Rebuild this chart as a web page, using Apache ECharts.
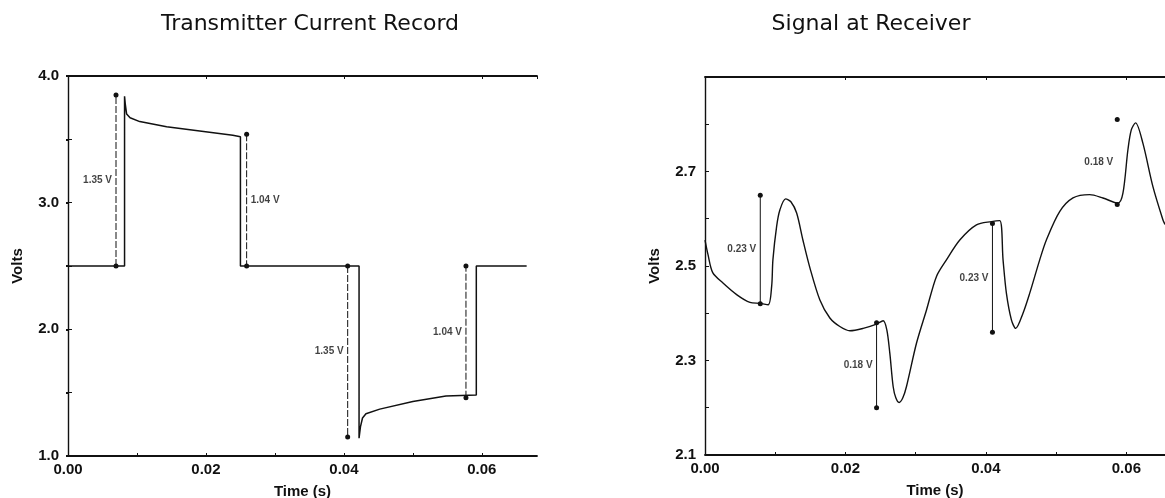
<!DOCTYPE html>
<html>
<head>
<meta charset="utf-8">
<title>Transmitter and Receiver Records</title>
<script src="https://cdn.jsdelivr.net/npm/echarts@6/dist/echarts.min.js"></script>
<style>
  html, body { margin: 0; padding: 0; background: #fff; }
  #chart { width: 1165px; height: 498px; }
</style>
</head>
<body>
<div id="chart"></div>
<script>
// Transmitter current record (time in s, volts)
const txTime  = [0, 0.0082, 0.0082, 0.0083, 0.0085, 0.0090, 0.0104, 0.0143, 0.0191, 0.0239, 0.0250, 0.0250,
                 0.0422, 0.0422, 0.0424, 0.0427, 0.0432, 0.0452, 0.0500, 0.0548, 0.0592, 0.0592, 0.0665];
const txVolts = [2.50, 2.50, 3.84, 3.78, 3.70, 3.67, 3.64, 3.60, 3.566, 3.532, 3.52, 2.50,
                 2.50, 1.14, 1.23, 1.30, 1.333, 1.37, 1.43, 1.474, 1.482, 2.50, 2.50];

// Signal seen at the receiver
const rxTime  = [0, 0.00043, 0.0011, 0.00256, 0.00455, 0.0064, 0.00782, 0.0090, 0.00949, 0.00967, 0.0102, 0.01067,
                 0.01148, 0.01223, 0.01305, 0.01394, 0.01494, 0.01636, 0.01778, 0.0192, 0.02063, 0.02252, 0.02443,
                 0.02536, 0.02589, 0.02632, 0.02679, 0.02717, 0.02764, 0.02817, 0.02869, 0.03012, 0.03154, 0.03296,
                 0.03438, 0.03628, 0.03865, 0.04079, 0.04197, 0.04244, 0.04292, 0.04363, 0.04424, 0.04528, 0.04623,
                 0.04766, 0.04861, 0.0505, 0.0524, 0.05477, 0.05666, 0.0588, 0.05951, 0.06022, 0.0607, 0.06131,
                 0.06235, 0.06378, 0.0652, 0.0655];
const rxVolts = [2.555, 2.524, 2.486, 2.464, 2.439, 2.423, 2.421, 2.418, 2.457, 2.513, 2.584, 2.619,
                 2.642, 2.636, 2.612, 2.555, 2.496, 2.428, 2.390, 2.372, 2.363, 2.368, 2.377,
                 2.384, 2.365, 2.315, 2.245, 2.221, 2.211, 2.221, 2.245, 2.337, 2.407, 2.478,
                 2.513, 2.555, 2.587, 2.594, 2.596, 2.513, 2.442, 2.386, 2.368, 2.400, 2.442,
                 2.513, 2.555, 2.615, 2.644, 2.651, 2.644, 2.633, 2.654, 2.746, 2.788, 2.803,
                 2.760, 2.668, 2.598, 2.588];

// Step annotations: time, start volts, end volts, text, text side
const txMarkTime = [0.00696, 0.0259, 0.04055, 0.0577];
const txMarkFrom = [2.50, 3.54, 2.50, 1.46];
const txMarkTo   = [3.85, 2.50, 1.15, 2.50];
const txMarkText = ['1.35 V', '1.04 V', '1.35 V', '1.04 V'];
const txMarkSide = ['left', 'right', 'left', 'left'];

const rxMarkTime = [0.00787, 0.02443, 0.04093, 0.0587];
const rxMarkFrom = [2.42, 2.38, 2.59, 2.63];
const rxMarkTo   = [2.65, 2.20, 2.36, 2.81];
const rxMarkText = ['0.23 V', '0.18 V', '0.23 V', '0.18 V'];
const rxMarkSide = ['left', 'left', 'left', 'left'];
const rxMarkStem = [true, true, true, false];

// Axis tick labels
const txYLabels = ['1.0', '2.0', '3.0', '4.0'];
const rxYLabels = ['2.1', '2.3', '2.5', '2.7'];
const xLabels   = ['0.00', '0.02', '0.04', '0.06'];

const FONT = 'Liberation Sans, Arial, Helvetica, sans-serif';
const TITLE_FONT = 'DejaVu Sans, Liberation Sans, sans-serif';
const INK = '#111';

function pairs(xs, ys) { return xs.map((x, i) => [x, ys[i]]); }

function fmtFrom(list) {
  return function (v) {
    const s = (Math.abs(v) < 1e-9 ? 0 : v).toFixed(list[0].split('.')[1].length);
    return list.indexOf(s) >= 0 && Math.abs(parseFloat(s) - v) < 1e-6 ? s : '';
  };
}

function xAxisBottom(gridIndex, max) {
  return {
    type: 'value', gridIndex: gridIndex, min: 0, max: max, interval: 0.01,
    name: 'Time (s)', nameLocation: 'middle', nameGap: 28,
    nameTextStyle: { color: INK, fontFamily: FONT, fontSize: 15, fontWeight: 'bold' },
    axisLine: { show: true, onZero: false, lineStyle: { color: INK, width: 1.8 } },
    axisTick: { show: true, inside: true, length: 3, lineStyle: { color: INK, width: 1 } },
    axisLabel: { color: INK, fontFamily: FONT, fontSize: 15, fontWeight: 'bold', margin: 6,
                 formatter: fmtFrom(xLabels), showMinLabel: true, showMaxLabel: false },
    splitLine: { show: false }
  };
}

function xAxisTop(gridIndex, max) {
  return {
    type: 'value', gridIndex: gridIndex, position: 'top', min: 0, max: max, interval: 0.02,
    axisLine: { show: true, onZero: false, lineStyle: { color: INK, width: 1.8 } },
    axisTick: { show: true, inside: true, length: 3, lineStyle: { color: INK, width: 1 } },
    axisLabel: { show: false }, splitLine: { show: false }
  };
}

function yAxisLeft(gridIndex, min, max, interval, labels, nameGap) {
  return {
    type: 'value', gridIndex: gridIndex, min: min, max: max, interval: interval,
    name: 'Volts', nameLocation: 'middle', nameGap: nameGap, nameRotate: 90,
    nameTextStyle: { color: INK, fontFamily: FONT, fontSize: 15, fontWeight: 'bold' },
    axisLine: { show: true, onZero: false, lineStyle: { color: INK, width: 1.4 } },
    axisTick: { show: true, inside: true, length: 4, lineStyle: { color: INK, width: 1 } },
    axisLabel: { color: INK, fontFamily: FONT, fontSize: 15, fontWeight: 'bold', margin: 9,
                 formatter: fmtFrom(labels) },
    splitLine: { show: false }
  };
}

function markSeries(xi, yi, times, from, to, texts, sides, stems, dashed) {
  const out = [];
  times.forEach((t, i) => {
    out.push({
      type: 'line', xAxisIndex: xi, yAxisIndex: yi, silent: true, animation: false,
      data: [[t, from[i]], [t, to[i]]],
      symbol: 'circle', symbolSize: 5, showSymbol: true,
      itemStyle: { color: INK },
      lineStyle: { color: INK, width: 1, type: dashed ? [7, 2] : 'solid',
                   opacity: stems && !stems[i] ? 0 : 1 },
      z: 3
    });
    out.push({
      type: 'scatter', xAxisIndex: xi, yAxisIndex: yi, silent: true, animation: false,
      symbolSize: 0, data: [[t, (from[i] + to[i]) / 2]],
      label: { show: true, position: sides[i], distance: 4, formatter: texts[i],
               color: INK, fontFamily: FONT, fontSize: 10, fontWeight: 'bold' },
      z: 4
    });
  });
  return out;
}

const chart = echarts.init(document.getElementById('chart'), null, { renderer: 'canvas' });

const option = {
  backgroundColor: '#fff',
  animation: false,
  title: [
    { text: 'Transmitter Current Record', left: 305, top: 8, textAlign: 'center',
      textStyle: { color: INK, fontFamily: TITLE_FONT, fontSize: 22, fontWeight: 'normal' } },
    { text: 'Signal at Receiver', left: 866, top: 8, textAlign: 'center',
      textStyle: { color: INK, fontFamily: TITLE_FONT, fontSize: 22, fontWeight: 'normal' } }
  ],
  grid: [
    { left: 68, top: 76, width: 469, height: 380, outerBoundsMode: 'none', containLabel: false },
    { left: 705, top: 77, width: 460, height: 378, outerBoundsMode: 'none', containLabel: false }
  ],
  xAxis: [
    xAxisBottom(0, 0.068),
    xAxisTop(0, 0.068),
    xAxisBottom(1, 0.0655),
    xAxisTop(1, 0.0655)
  ],
  yAxis: [
    yAxisLeft(0, 1, 4, 0.5, txYLabels, 43),
    {
      type: 'value', gridIndex: 0, position: 'right', min: 1, max: 4, interval: 0.5,
      axisLine: { show: false },
      axisTick: { show: true, inside: true, length: 2, lineStyle: { color: INK, width: 2 } },
      axisLabel: { show: false }, splitLine: { show: false }
    },
    yAxisLeft(1, 2.1, 2.9, 0.1, rxYLabels, 43)
  ],
  series: [
    {
      type: 'line', xAxisIndex: 0, yAxisIndex: 0, data: pairs(txTime, txVolts),
      showSymbol: false, symbol: 'none', lineStyle: { color: INK, width: 1.5 }, z: 2
    },
    {
      type: 'line', xAxisIndex: 2, yAxisIndex: 2, data: pairs(rxTime, rxVolts),
      showSymbol: false, symbol: 'none', smooth: 0.3,
      lineStyle: { color: INK, width: 1.4 }, z: 2
    }
  ].concat(
    markSeries(0, 0, txMarkTime, txMarkFrom, txMarkTo, txMarkText, txMarkSide, null, true),
    markSeries(2, 2, rxMarkTime, rxMarkFrom, rxMarkTo, rxMarkText, rxMarkSide, rxMarkStem, false)
  )
};

chart.setOption(option);
</script>
</body>
</html>
